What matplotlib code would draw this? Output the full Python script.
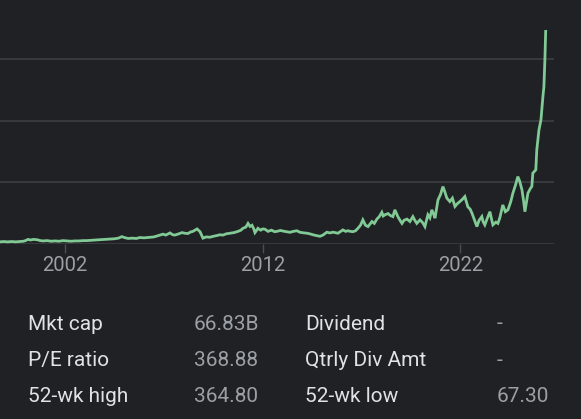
import matplotlib.pyplot as plt
import numpy as np

# price history (decimal year, price)
years = [1998.71, 1998.9, 1999.1, 1999.3, 1999.5, 1999.72, 1999.9, 2000.0, 2000.13, 2000.25,
         2000.4, 2000.58, 2000.75, 2000.89, 2001.1, 2001.3, 2001.49, 2001.7, 2001.9, 2002.1,
         2002.3, 2002.5, 2002.7, 2002.91, 2003.1, 2003.3, 2003.5, 2003.77, 2004.0, 2004.28,
         2004.5, 2004.7, 2004.88, 2005.0, 2005.19, 2005.4, 2005.6, 2005.79, 2006.0, 2006.3,
         2006.5, 2006.7, 2006.96, 2007.1, 2007.31, 2007.45, 2007.56, 2007.75, 2007.92, 2008.05,
         2008.22, 2008.35, 2008.47, 2008.68, 2008.83, 2008.98, 2009.15, 2009.33, 2009.5, 2009.65,
         2009.84, 2010.0, 2010.15, 2010.35, 2010.55, 2010.75, 2010.9, 2011.0, 2011.15, 2011.26,
         2011.36, 2011.46, 2011.55, 2011.61, 2011.7, 2011.76, 2011.9, 2012.0, 2012.12, 2012.27,
         2012.45, 2012.6, 2012.72, 2012.9, 2013.03, 2013.2, 2013.38, 2013.55, 2013.73, 2013.89,
         2014.1, 2014.25, 2014.39, 2014.6, 2014.75, 2014.9, 2015.05, 2015.25, 2015.4, 2015.56,
         2015.81, 2016.06, 2016.2, 2016.31, 2016.45, 2016.57, 2016.7, 2016.82, 2016.95, 2017.07,
         2017.2, 2017.33, 2017.53, 2017.65, 2017.78, 2017.9, 2018.03, 2018.1, 2018.19, 2018.34,
         2018.45, 2018.59, 2018.69, 2018.84, 2018.95, 2019.05, 2019.15, 2019.3, 2019.45, 2019.6,
         2019.7, 2019.8, 2019.96, 2020.1, 2020.21, 2020.36, 2020.46, 2020.56, 2020.65, 2020.72,
         2020.87, 2021.0, 2021.12, 2021.22, 2021.32, 2021.47, 2021.6, 2021.73, 2021.85, 2021.98,
         2022.1, 2022.23, 2022.38, 2022.5, 2022.59, 2022.7, 2022.84, 2022.95, 2023.09, 2023.15,
         2023.24, 2023.35, 2023.5, 2023.58, 2023.65, 2023.8, 2023.9, 2024.0, 2024.15, 2024.28,
         2024.41, 2024.55, 2024.66, 2024.8, 2024.91, 2025.0, 2025.12, 2025.2, 2025.27, 2025.35,
         2025.42, 2025.55, 2025.62, 2025.67, 2025.82, 2025.87, 2025.98, 2026.08, 2026.18, 2026.23,
         2026.28, 2026.32]
prices = [3, 3.5, 3, 3.5, 3, 3.5, 4, 5, 7, 6,
          7, 6.5, 5, 4.5, 5, 4, 4.5, 4, 5, 4.5,
          4, 4.5, 4.5, 5, 5, 5.5, 6, 6.5, 7, 7.5,
          8, 9, 11.5, 10, 8.5, 9, 8.5, 10, 9.5, 10.5,
          11, 13, 15.5, 14, 17.5, 14.5, 14, 16, 18, 17,
          16.5, 19, 20, 24, 19.5, 9, 11, 10.5, 12, 13,
          14.5, 14, 16, 17, 18, 20, 22, 25, 27, 33,
          28, 30, 24, 18, 22, 25, 22, 24, 23.5, 20,
          22, 19.5, 20, 21.5, 20.5, 19.5, 18.5, 20, 21, 18.5,
          17.5, 17, 16, 14, 13, 12, 14, 18.7, 17.5, 18.7,
          17, 22.4, 20, 21, 20, 19.5, 21, 25, 30, 38.7,
          30, 27.8, 36, 33, 40, 44, 51, 45, 47, 49,
          46, 44, 55, 44, 38, 33, 38, 40, 36, 44,
          38, 33, 38.7, 34, 27.8, 47, 42, 55, 48, 41.5,
          71, 80, 92.8, 84, 74, 68.5, 74, 60.5, 65, 68.5,
          72, 76.6, 60, 56, 49.6, 40, 27.8, 38, 44, 36,
          30.6, 40, 52, 40, 30.6, 35, 33, 42, 63, 52,
          55, 68, 82, 96, 109, 102, 87.5, 70, 52, 68,
          82, 90, 93, 114.6, 120, 152.5, 185, 201, 239, 255,
          299, 345]

tick_years = [2002, 2012, 2022]
grid_levels = [0, 100, 200, 300]

stat_labels = [['Mkt cap', 'P/E ratio', '52-wk high'],
               ['Dividend', 'Qtrly Div Amt', '52-wk low']]
stat_values = [['66.83B', '368.88', '364.80'],
               ['-', '-', '67.30']]

bg = '#202124'
plt.rcParams['font.family'] = ['Roboto', 'DejaVu Sans']

fig = plt.figure(figsize=(5.81, 4.19), dpi=100, facecolor=bg)
ax = fig.add_axes([0, 0.4184, 0.9535, 0.5816])
ax.set_facecolor(bg)

ax.plot(years, prices, color='#81c995', lw=2.0, solid_joinstyle='miter')

ax.set_xlim(1998.71, 2026.74)
ax.set_ylim(0, 396)
ax.set_yticks(grid_levels)
ax.yaxis.grid(True, color='#3c4043', lw=1.2)
ax.set_axisbelow(True)
ax.tick_params(axis='y', length=0, labelleft=False)
ax.set_xticks(tick_years)
ax.set_xticklabels([str(y) for y in tick_years])
ax.tick_params(axis='x', length=6.5, width=1, colors='#4a4d51', labelcolor='#9aa0a6',
               labelsize=14.5, pad=2.5)
for s in ax.spines.values():
    s.set_visible(False)

# key stats table under the chart
row_y = [324, 360, 396]
label_x = [27.5, 305]
value_x = [194, 497]
for col in range(2):
    for r in range(3):
        fig.text(label_x[col] / 581, 1 - row_y[r] / 419, stat_labels[col][r],
                 color='#e0e2e5', fontsize=15, va='center', ha='left')
        fig.text(value_x[col] / 581, 1 - row_y[r] / 419, stat_values[col][r],
                 color='#9aa0a6', fontsize=15, va='center', ha='left')

fig.savefig('out.png', dpi=100, facecolor=bg)
